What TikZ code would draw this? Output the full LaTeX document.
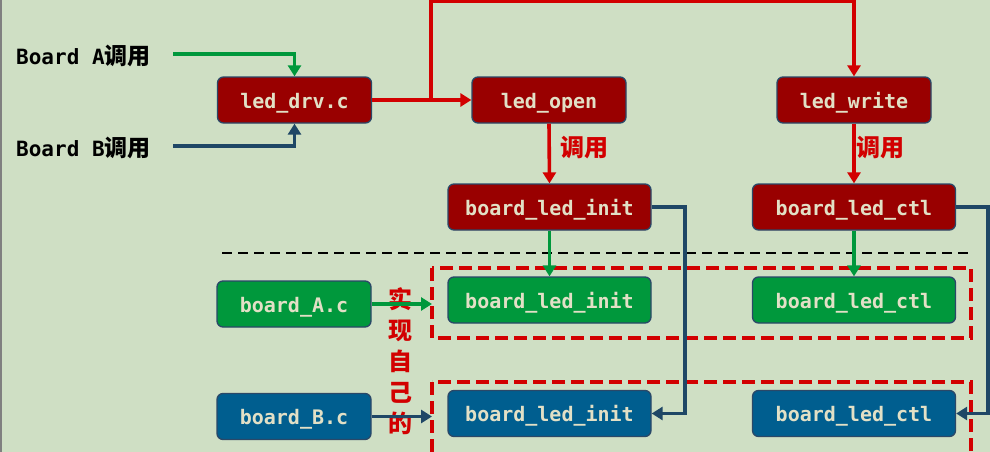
\documentclass[tikz,border=0pt]{standalone}
\usepackage{fontspec}
\usetikzlibrary{arrows.meta}
\newfontfamily\monofnt{DejaVu Sans Mono}
\newfontfamily\cjkfnt{Noto Sans CJK SC}
\definecolor{bgc}{RGB}{207,223,196}
\definecolor{dred}{RGB}{153,0,0}
\definecolor{gfill}{RGB}{0,152,60}
\definecolor{bfill}{RGB}{0,94,143}
\definecolor{bord}{RGB}{42,72,104}
\definecolor{navy}{RGB}{31,71,102}
\definecolor{rline}{RGB}{210,0,0}
\definecolor{ltxt}{RGB}{226,224,198}
\tikzset{
  box/.style={rounded corners=6pt, draw=bord, line width=1.3pt, minimum height=46pt,
    inner sep=0pt, text height=16pt, text depth=0pt, text=ltxt,
    font=\monofnt\bfseries\fontsize{20}{20}\selectfont},
  smallbox/.style={box, minimum width=154pt},
  bigbox/.style={box, minimum width=203pt},
  tip/.style={-{Triangle[width=13pt,length=11pt]}},
  redarr/.style={draw=rline, line width=3.6pt},
  grnarr/.style={draw=gfill, line width=3.4pt},
  navarr/.style={draw=navy, line width=3.4pt},
  zone/.style={draw=rline, line width=3.8pt, dash pattern=on 13pt off 6pt},
  cjklab/.style={text=rline, font=\cjkfnt\bfseries\fontsize{24}{24}\selectfont, inner sep=0pt}
}
\begin{document}
\begin{tikzpicture}[x=1pt,y=-1pt]
\useasboundingbox (0,0) rectangle (990,452);
\fill[bgc] (0,0) rectangle (990,452);
\draw[gray, line width=1.5pt] (0.75,0) -- (0.75,452);

% nodes
\node[smallbox, fill=dred] (drv) at (294.5,100) {led\_drv.c};
\node[smallbox, fill=dred] (open) at (549,100) {led\_open};
\node[smallbox, fill=dred] (write) at (854,100) {led\_write};
\node[bigbox, fill=dred] (rinit) at (549.5,207) {board\_led\_init};
\node[bigbox, fill=dred] (rctl) at (854,207) {board\_led\_ctl};
\node[smallbox, fill=gfill] (bA) at (294,304) {board\_A.c};
\node[bigbox, fill=gfill] (ginit) at (549.5,300) {board\_led\_init};
\node[bigbox, fill=gfill] (gctl) at (854,300) {board\_led\_ctl};
\node[smallbox, fill=bfill] (bB) at (294,416.5) {board\_B.c};
\node[bigbox, fill=bfill] (binit) at (549.5,413.5) {board\_led\_init};
\node[bigbox, fill=bfill] (bctl) at (854,413.5) {board\_led\_ctl};

% labels
\node[anchor=west, inner sep=0pt, font=\monofnt\bfseries\fontsize{21}{21}\selectfont] (la) at (16,56) {Board A{\cjkfnt\bfseries\fontsize{23}{23}\selectfont 调用}};
\node[anchor=west, inner sep=0pt, font=\monofnt\bfseries\fontsize{21}{21}\selectfont] (lb) at (16,148) {Board B{\cjkfnt\bfseries\fontsize{23}{23}\selectfont 调用}};
\node[cjklab, anchor=west] (c1) at (560,148) {调用};
\node[cjklab, anchor=west] (c2) at (856,148) {调用};
\node[cjklab, align=center, font=\cjkfnt\bfseries\fontsize{24}{31}\selectfont] (impl) at (400,361) {实\\现\\自\\己\\的};

% zones
\draw[zone] (432,268) rectangle (971,338);
\draw[zone] (432,382) rectangle (971,470);
\draw[black, line width=2.4pt, dash pattern=on 10pt off 6pt] (222,253) -- (970,253);

% coordinates
\coordinate (ga) at (173,54);
\coordinate (gb) at (173,146);
\coordinate (br) at (431,100);
\coordinate (tp) at (431,1);
\coordinate (za) at (432,304);
\coordinate (zb) at (432,416.5);
\coordinate (n1) at (685,207);
\coordinate (n2) at (988,207);

% connectors
\draw[grnarr, tip] (ga) -| (drv.north);
\draw[navarr, tip] (gb) -| (drv.south);
\draw[redarr, tip] (drv.east) -- (open.west);
\draw[redarr, tip] (br) -- (tp) -| (write.north);
\draw[redarr, tip] (open.south) -- (rinit.north);
\draw[redarr, tip] (write.south) -- (rctl.north);
\draw[grnarr, tip] (rinit.south) -- (ginit.north);
\draw[grnarr, tip] (rctl.south) -- (gctl.north);
\draw[navarr, tip] (rinit.east) -- (n1) |- (binit.east);
\draw[navarr, tip] (rctl.east) -- (n2) |- (bctl.east);
\draw[grnarr, tip] (bA.east) -- (za);
\draw[navarr, tip] (bB.east) -- (zb);
\end{tikzpicture}
\end{document}
